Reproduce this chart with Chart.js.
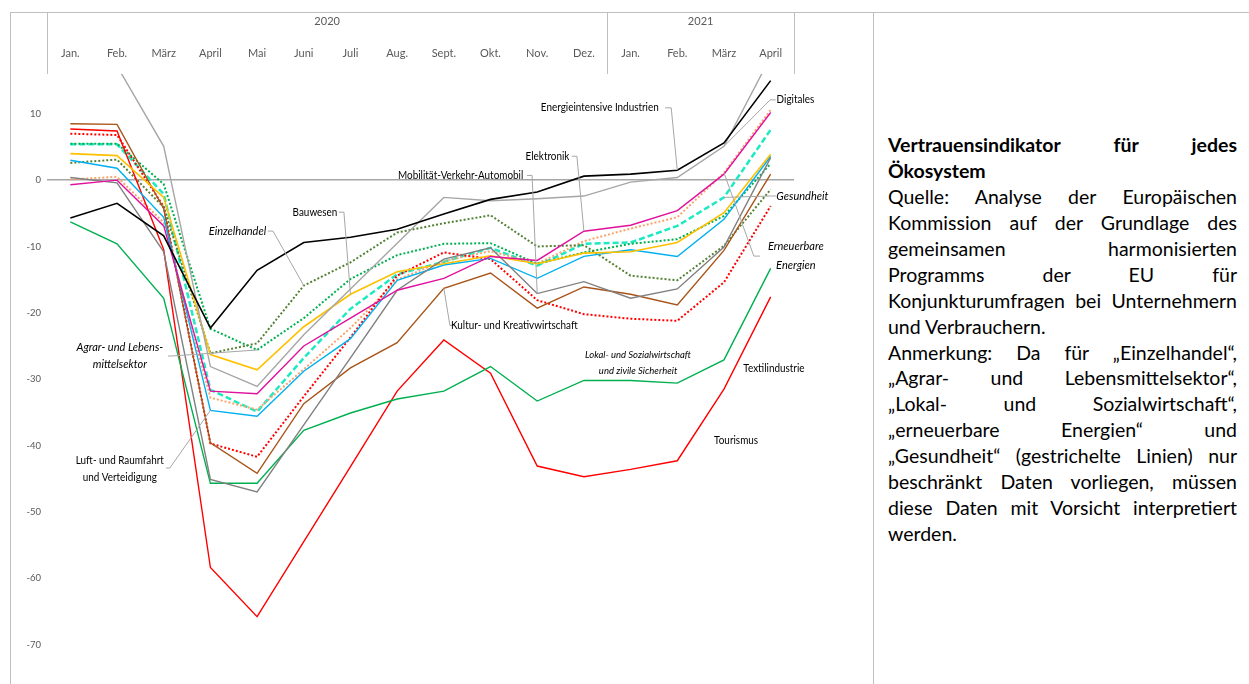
<!DOCTYPE html>
<html lang="de">
<head>
<meta charset="utf-8">
<script src="https://cdn.jsdelivr.net/npm/chart.js@4.4.1/dist/chart.umd.min.js"></script>
<style>
  html, body { margin: 0; padding: 0; background: #fff; }
  body { width: 1249px; height: 684px; position: relative; overflow: hidden; font-family: Lato, sans-serif; }
  #frame { position: absolute; left: 10px; top: 12px; width: 1239px; height: 672px; border-left: 1px solid #BFBFBF; border-top: 1px solid #BFBFBF; }
  #divider { position: absolute; left: 873px; top: 12px; height: 672px; border-left: 1px solid #BFBFBF; }
  #chart { position: absolute; left: 0; top: 0; }
  #note { position: absolute; left: 888px; top: 132px; width: 349px; font-size: 19.5px; line-height: 25.93px; color: #000; }
  #note div { text-align: justify; text-align-last: justify; }
  #note div.l { text-align-last: left; }
  #note .b { font-weight: bold; }
</style>
</head>
<body>
<div id="frame"></div>
<div id="divider"></div>
<canvas id="chart" width="873" height="684"></canvas>
<div id="note">
  <div class="b">Vertrauensindikator für jedes</div>
  <div class="b l">Ökosystem</div>
  <div>Quelle: Analyse der Europäischen</div>
  <div>Kommission auf der Grundlage des</div>
  <div>gemeinsamen harmonisierten</div>
  <div>Programms der EU für</div>
  <div>Konjunkturumfragen bei Unternehmern</div>
  <div class="l">und Verbrauchern.</div>
  <div>Anmerkung: Da für „Einzelhandel“,</div>
  <div>„Agrar- und Lebensmittelsektor“,</div>
  <div>„Lokal- und Sozialwirtschaft“,</div>
  <div>„erneuerbare Energien“ und</div>
  <div>„Gesundheit“ (gestrichelte Linien) nur</div>
  <div>beschränkt Daten vorliegen, müssen</div>
  <div>diese Daten mit Vorsicht interpretiert</div>
  <div class="l">werden.</div>
</div>
<script>
// Monate (Jan. 2020 - April 2021)
const months = ['Jan.', 'Feb.', 'März', 'April', 'Mai', 'Juni', 'Juli', 'Aug.', 'Sept.', 'Okt.', 'Nov.', 'Dez.', 'Jan.', 'Feb.', 'März', 'April'];
const years = ['2020', '2021'];
const yearFirstMonth = [0, 12];
const yTicks = [10, 0, -10, -20, -30, -40, -50, -60, -70];

// Vertrauensindikator je Ökosystem
const luftRaumfahrt = [3.0, 1.8, -5.6, -34.7, -35.6, -28.8, -23.9, -15.1, -12.8, -11.8, -14.8, -11.5, -10.5, -11.5, -5.9, 3.6];
const agrar = [5.5, 5.5, -0.6, -22.4, -25.6, -20.8, -14.9, -11.3, -9.6, -9.5, -12.6, -10.9, -9.6, -8.9, -5.4, 2.5];
const bauwesen = [4.0, 3.7, -2.6, -26.3, -28.6, -22.1, -17.2, -13.8, -12.6, -11.4, -12.6, -11.0, -10.8, -9.4, -4.9, 3.9];
const kultur = [8.5, 8.4, -4.3, -39.6, -44.2, -33.7, -28.3, -24.5, -16.3, -14.0, -19.3, -16.1, -17.2, -18.8, -10.6, 0.9];
const digitales = [18.0, 17.2, 5.1, -28.1, -31.1, -23.3, -16.4, -9.5, -2.6, -3.1, -2.8, -2.4, -0.3, 0.4, 5.1, 18.6];
const elektronik = [-0.7, 0.0, -6.9, -31.8, -32.2, -25.0, -20.8, -16.6, -14.8, -11.5, -12.1, -7.7, -6.8, -4.6, 0.9, 10.2];
const energieintensiv = [-5.7, -3.5, -8.4, -22.3, -13.6, -9.4, -8.6, -7.4, -5.1, -2.9, -1.8, 0.6, 0.9, 1.5, 5.6, 15.0];
const erneuerbar = [0.1, 0.5, -6.4, -32.8, -34.6, -28.5, -22.3, -15.0, -12.2, -10.7, -12.6, -9.2, -7.3, -5.6, 1.1, 10.6];
const gesundheit = [5.4, 5.4, -2.1, -31.6, -34.9, -26.8, -19.4, -14.2, -12.3, -10.2, -12.9, -9.6, -9.4, -6.9, -2.6, 7.6];
const mobilitaet = [0.4, -0.4, -10.8, -45.1, -47.0, -36.9, -26.8, -16.6, -11.9, -10.2, -17.1, -15.3, -17.8, -16.4, -10.1, 3.4];
const lokal = [7.0, 6.8, -4.0, -39.7, -41.7, -32.6, -23.7, -14.4, -10.9, -11.9, -18.1, -20.2, -20.9, -21.2, -15.4, -3.9];
const einzelhandel = [2.6, 3.1, -4.1, -26.1, -24.6, -15.9, -12.4, -7.9, -6.5, -5.3, -10.0, -9.8, -14.4, -15.1, -9.9, -1.4];
const textil = [-6.3, -9.6, -17.8, -45.7, -45.7, -37.7, -35.1, -33.0, -31.8, -28.1, -33.3, -30.2, -30.2, -30.6, -27.1, -13.3];
const tourismus = [7.7, 7.4, -10.5, -58.4, -65.8, -54.5, -43.2, -31.8, -24.1, -29.1, -43.1, -44.7, -43.6, -42.3, -31.5, -17.6];

const dotted = [2, 2];
const series = {
  energie:  { name: 'Energieintensive Industrien', data: energieintensiv, color: '#000000', width: 1.6 },
  digital:  { name: 'Digitales', data: digitales, color: '#A6A6A6', width: 1.4 },
  elektro:  { name: 'Elektronik', data: elektronik, color: '#E0119D', width: 1.4 },
  mobil:    { name: 'Mobilität-Verkehr-Automobil', data: mobilitaet, color: '#808080', width: 1.4 },
  bau:      { name: 'Bauwesen', data: bauwesen, color: '#FFC000', width: 1.6 },
  luft:     { name: 'Luft- und Raumfahrt und Verteidigung', data: luftRaumfahrt, color: '#00B0F0', width: 1.4 },
  kultur:   { name: 'Kultur- und Kreativwirtschaft', data: kultur, color: '#A85419', width: 1.4 },
  textil:   { name: 'Textilindustrie', data: textil, color: '#00B050', width: 1.4 },
  tour:     { name: 'Tourismus', data: tourismus, color: '#FF0000', width: 1.4 },
  einzel:   { name: 'Einzelhandel', data: einzelhandel, color: '#548235', width: 2, dash: dotted },
  agrar:    { name: 'Agrar- und Lebensmittelsektor', data: agrar, color: '#00B050', width: 2, dash: dotted },
  lokal:    { name: 'Lokal- und Sozialwirtschaft und zivile Sicherheit', data: lokal, color: '#FF0000', width: 2, dash: dotted },
  erneuer:  { name: 'Erneuerbare Energien', data: erneuerbar, color: '#F8A46C', width: 2, dash: dotted },
  gesund:   { name: 'Gesundheit', data: gesundheit, color: '#1DE9C3', width: 2.5, dash: [6, 3] }
};

// Beschriftungen: Position in Achsenwerten (Monatsindex, Indikatorwert)
const callouts = [
  { text: ['Energieintensive Industrien'], at: [11.34, 10.9], leader: [[12.74, 10.9], [12.87, 10.9]], to: ['energie', 13] },
  { text: ['Digitales'], at: [15.53, 12.1], leader: [[15.11, 12.1], [14.99, 12.1]], to: ['digital', 14] },
  { text: ['Elektronik'], at: [10.22, 3.6], leader: [[10.74, 3.6], [10.85, 3.6]], to: ['elektro', 11] },
  { text: ['Mobilität-Verkehr-Automobil'], at: [8.36, 0.71], leader: [[9.78, 0.71], [9.89, 0.71]], to: ['mobil', 10] },
  { text: ['Bauwesen'], at: [5.24, -4.83], leader: [[5.75, -4.83], [5.86, -4.83]], to: ['bau', 6] },
  { text: ['Einzelhandel'], italic: true, at: [3.58, -7.68], leader: [[4.23, -7.68], [4.34, -7.68]], to: ['einzel', 5] },
  { text: ['Kultur- und Kreativwirtschaft'], at: [9.51, -21.91], leader: [[8.24, -21.91], [8.13, -21.91]], to: ['kultur', 8] },
  { text: ['Agrar- und Lebens-', 'mittelsektor'], italic: true, lh: 17.5, at: [1.06, -26.51], leader: [[2.09, -26.51], [2.18, -26.51]], to: ['agrar', 4] },
  { text: ['Luft- und Raumfahrt', 'und Verteidigung'], lh: 17, at: [1.06, -43.48], leader: [[2.05, -43.4], [2.13, -43.4]], to: ['luft', 3] },
  { text: ['Lokal- und Sozialwirtschaft', 'und zivile Sicherheit'], italic: true, size: 9.5, lh: 16, at: [12.16, -27.6] },
  { text: ['Gesundheit'], italic: true, at: [15.68, -2.39], leader: [[15.11, -2.39], [15.01, -2.39]], to: ['gesund', 14] },
  { text: ['Erneuerbare', 'Energien'], italic: true, lh: 19, at: [15.54, -11.45], leader: [[14.77, -11.45], [14.64, -11.45]], to: ['erneuer', 14] },
  { text: ['Textilindustrie'], at: [15.07, -28.35] },
  { text: ['Tourismus'], at: [14.26, -39.29] }
];

const yMax = 16;
const yMin = -74.19;

const decor = {
  id: 'decor',
  afterDatasetsDraw(chart) {
    const { ctx, scales: { x, y } } = chart;
    ctx.save();
    ctx.strokeStyle = '#A6A6A6';
    ctx.lineWidth = 1;
    callouts.forEach(c => {
      if (!c.to) return;
      const s = series[c.to[0]];
      ctx.beginPath();
      c.leader.forEach((p, i) => {
        const px = x.getPixelForValue(p[0]), py = y.getPixelForValue(p[1]);
        if (i === 0) ctx.moveTo(px, py); else ctx.lineTo(px, py);
      });
      ctx.lineTo(x.getPixelForValue(c.to[1]), y.getPixelForValue(s.data[c.to[1]]));
      ctx.stroke();
    });
    ctx.fillStyle = '#000';
    ctx.textAlign = 'center';
    ctx.textBaseline = 'middle';
    callouts.forEach(c => {
      const size = c.size || 11;
      const lh = c.lh || 14;
      const sx = c.italic ? 1 : 0.9;   // schmale Schrift wie im Original
      ctx.font = (c.italic ? 'italic ' : '') + size + 'px Lato';
      const cx = x.getPixelForValue(c.at[0]);
      const cy = y.getPixelForValue(c.at[1]);
      const top = cy - (c.text.length - 1) * lh / 2;
      c.text.forEach((t, i) => {
        ctx.save();
        ctx.translate(cx, top + i * lh);
        ctx.scale(sx, 1);
        ctx.fillText(t, 0, 0);
        ctx.restore();
      });
    });
    ctx.restore();
  },
  afterDraw(chart) {
    const { ctx, chartArea: a, scales: { x } } = chart;
    const half = (x.getPixelForValue(1) - x.getPixelForValue(0)) / 2;
    ctx.save();
    ctx.strokeStyle = '#BFBFBF';
    ctx.lineWidth = 1;
    const edges = yearFirstMonth.map(i => x.getPixelForValue(i) - half).concat([x.getPixelForValue(months.length - 1) + half]);
    edges.forEach(px => {
      const xx = Math.round(px) + 0.5;
      ctx.beginPath();
      ctx.moveTo(xx, 12);
      ctx.lineTo(xx, a.top);
      ctx.stroke();
    });
    ctx.fillStyle = '#595959';
    ctx.font = '11px Lato';
    ctx.textAlign = 'center';
    ctx.textBaseline = 'middle';
    years.forEach((yr, i) => {
      const first = yearFirstMonth[i];
      const last = i + 1 < yearFirstMonth.length ? yearFirstMonth[i + 1] - 1 : months.length - 1;
      ctx.fillText(yr, (x.getPixelForValue(first) + x.getPixelForValue(last)) / 2, 21);
    });
    ctx.restore();
  }
};

const ctx = document.getElementById('chart').getContext('2d');
const chart = new Chart(ctx, {
  type: 'line',
  data: {
    labels: months,
    datasets: Object.values(series).map(s => ({
      label: s.name,
      data: s.data,
      borderColor: s.color,
      borderWidth: s.width,
      borderDash: s.dash || [],
      pointRadius: 0,
      tension: 0,
      fill: false,
      clip: 0
    }))
  },
  options: {
    responsive: false,
    animation: false,
    layout: { padding: { left: 10, top: 12, right: 79, bottom: 8 } },
    plugins: { legend: { display: false }, tooltip: { enabled: false } },
    scales: {
      x: {
        position: 'top',
        offset: true,
        grid: { display: false, drawTicks: false },
        border: { display: false },
        ticks: { autoSkip: false, maxRotation: 0, padding: 14, color: '#595959', font: { family: 'Lato', size: 11 } },
        afterFit: s => { s.height = 62; }
      },
      y: {
        min: yMin,
        max: yMax,
        grid: {
          color: c => (c.tick && c.tick.value === 0 ? '#A6A6A6' : 'rgba(0,0,0,0)'),
          lineWidth: 1.5,
          drawTicks: false
        },
        border: { display: false },
        ticks: { autoSkip: false, padding: 6, color: '#595959', font: { family: 'Lato', size: 9.5 }, callback: v => String(v) },
        afterBuildTicks: s => { s.ticks = yTicks.map(v => ({ value: v })); },
        afterFit: s => { s.width = 37; }
      }
    }
  },
  plugins: [decor]
});
</script>
</body>
</html>
